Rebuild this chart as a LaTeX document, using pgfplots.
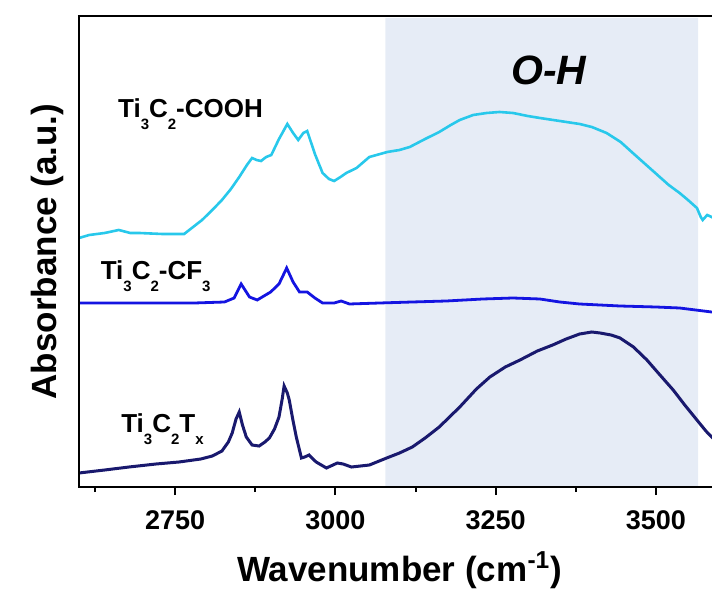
\documentclass[border=0pt]{standalone}
\usepackage{fontspec}
\setmainfont{Liberation Sans}
\usepackage{pgfplots}
\pgfplotsset{compat=1.18}
\definecolor{cooh}{RGB}{40,200,235}
\definecolor{cftr}{RGB}{20,20,225}
\definecolor{tx}{RGB}{25,25,110}
\definecolor{shade}{RGB}{230,236,246}
\newcommand\sub[1]{\raisebox{-6pt}{\fontsize{7.5}{7.5}\selectfont #1}}
\begin{document}
\begin{tikzpicture}[trim left=-39.5pt, trim right=316.5pt]
\begin{axis}[
  at={(0,0)}, anchor=south west,
  scale only axis, width=320.5pt, height=235.5pt,
  xmin=2600, xmax=3600, ymin=0, ymax=471,
  axis on top,
  axis line style={line width=1.2pt, black},
  xtick={2750,3000,3250,3500},
  minor xtick={2625,2875,3125,3375},
  xtick pos=bottom, ytick=\empty,
  tick align=outside,
  major tick length=4pt, minor tick length=2.5pt,
  every tick/.style={black, line width=1pt},
  xticklabel style={font=\fontsize{13.5}{16}\selectfont\bfseries, yshift=-4.5pt},
  /pgf/number format/assume math mode=true,
  /pgf/number format/set thousands separator={},
  xlabel={Wavenumber (cm\textsuperscript{-1})},
  ylabel={Absorbance (a.u.)},
  label style={font=\fontsize{17.5}{20}\selectfont\bfseries},
  xlabel style={yshift=-4pt},
  ylabel style={yshift=0pt},
  clip=true,
]
\addplot[draw=none, fill=shade] coordinates {(3078,0) (3078,469) (3566,469) (3566,0)} \closedcycle;

\addplot[cooh, line width=1.3pt] coordinates {
(2600,249) (2616,252) (2640,254) (2662,257) (2680,254) (2694,254) (2730,253) (2764,253)
(2778,260) (2792,267) (2808,277) (2823,287) (2837,298) (2850,310) (2862,322) (2870,329)
(2877,327) (2884,326) (2892,330) (2900,332) (2912,348) (2925,363) (2934,354) (2942,347)
(2950,354) (2956,356) (2968,333) (2980,314) (2990,308) (2998,306) (3008,310) (3017,314)
(3033,319) (3053,330) (3081,335) (3100,337) (3116,340) (3140,348) (3162,355) (3180,362)
(3194,367) (3215,372) (3236,374) (3256,375) (3277,374) (3300,371) (3319,369) (3350,366)
(3381,363) (3400,360) (3423,354) (3445,345) (3464,334) (3485,322) (3506,310) (3520,302)
(3537,294) (3550,287) (3564,279) (3570,270) (3573,267) (3580,272) (3587,270) (3600,265)
};

\addplot[cftr, line width=1.4pt] coordinates {
(2600,184) (2650,184) (2709,184) (2780,184) (2827,185) (2842,189) (2853,203) (2866,190)
(2878,187) (2899,195) (2912,203) (2924,219) (2934,205) (2944,195) (2956,195) (2968,189)
(2980,184) (2998,184) (3009,186) (3022,183) (3069,184) (3120,185) (3173,186) (3230,188)
(3277,189) (3319,188) (3350,185) (3381,183) (3444,181) (3500,180) (3537,179) (3587,175) (3600,174)
};

\addplot[tx, line width=1.5pt] coordinates {
(2600,14) (2640,17) (2678,20) (2720,23) (2756,25) (2790,28) (2808,31) (2823,36)
(2833,45) (2839,54) (2845,68) (2850,75) (2855,62) (2861,50) (2870,42) (2881,41)
(2890,45) (2897,49) (2905,58) (2912,70) (2917,88) (2920,101) (2925,94) (2928,87)
(2934,66) (2939,50) (2947,29) (2952,30) (2959,32) (2965,28) (2970,25) (2986,19)
(3003,24) (3012,23) (3025,20) (3053,22) (3080,29) (3100,34) (3120,40) (3140,49)
(3162,60) (3194,80) (3220,98) (3241,110) (3265,120) (3288,127) (3315,136) (3339,142)
(3360,148) (3381,153) (3400,155) (3413,154) (3430,152) (3444,149) (3465,140) (3486,127)
(3505,113) (3527,97) (3545,82) (3564,67) (3578,56) (3587,50) (3600,42)
};

\node[anchor=base west, font=\fontsize{13}{15}\selectfont\bfseries] at (axis cs:2650,369) {Ti\sub{3}C\sub{2}-COOH};
\node[anchor=base west, font=\fontsize{13}{15}\selectfont\bfseries] at (axis cs:2623,207) {Ti\sub{3}C\sub{2}-CF\sub{3}};
\node[anchor=base west, font=\fontsize{13}{15}\selectfont\bfseries] at (axis cs:2655,55) {Ti\sub{3}C\sub{2}T\sub{x}};
\node[anchor=center, font=\fontsize{20.5}{24}\selectfont\bfseries\itshape] at (axis cs:3333,417) {O-H};
\end{axis}
\draw[line width=1.2pt, black] (-0.6pt,235.5pt) -- (316.5pt,235.5pt);
\path (-39.5pt,-50pt) rectangle (316.5pt,243.5pt);
\end{tikzpicture}
\end{document}
